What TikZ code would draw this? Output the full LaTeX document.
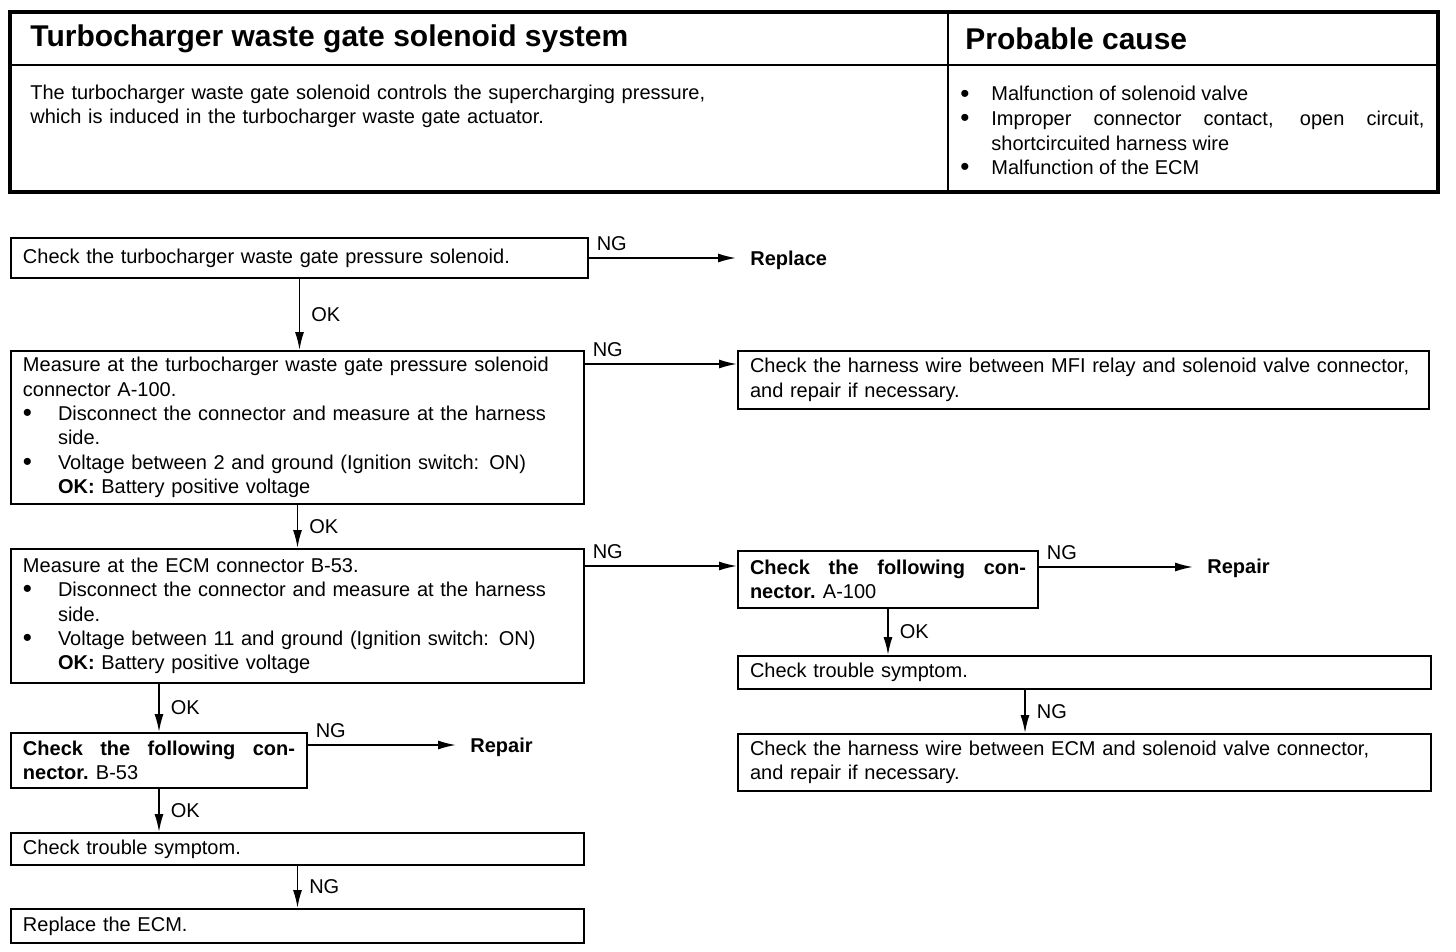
\documentclass[tikz,border=0pt]{standalone}
\usepackage{fontspec}
\usepackage{graphicx}
\setmainfont{Liberation Sans}
\usetikzlibrary{positioning,arrows.meta,calc}
\newcommand{\dotmark}{\raisebox{-0.06em}{\scalebox{1.3}{\textbullet}}}
\newcommand{\itm}[2][17.5pt]{\par\noindent\hangindent=#1\hangafter=1\hbox to #1{\dotmark\hfil}#2\par}
\tikzset{
  box/.style={draw,line width=1pt,anchor=north west,align=left,inner xsep=6pt,inner ysep=3pt,font=\fontsize{10}{12.2}\selectfont},
  jbox/.style={box,align=justify,font=\fontsize{10}{12.2}\selectfont\bfseries},
  arr/.style={-{Latex[length=9pt,width=4.5pt]},line width=0.8pt},
  lbl/.style={inner sep=3.5pt,font=\fontsize{10}{12}\selectfont},
  term/.style={anchor=west,inner xsep=7pt,inner ysep=0pt,font=\fontsize{10}{12}\selectfont\bfseries},
  head/.style={anchor=west,inner sep=0pt,font=\fontsize{15}{17}\selectfont\bfseries},
  grid/.style={line width=1.2pt}
}

\begin{document}
\begin{tikzpicture}[x=0.5pt,y=-0.5pt]
\useasboundingbox (0,0) rectangle (1456,952);
\draw[line width=1.8pt] (10,12) rectangle (1438,192);
\draw[grid] (10,65) -- (1438,65);
\draw[grid] (948,12) -- (948,192);
\node[head] (title) at (30,39) {Turbocharger waste gate solenoid system};
\node[head] (cause) at (965,39) {Probable cause};
\node[anchor=north west,inner sep=0pt,text width=370pt,align=left,font=\fontsize{10}{12}\selectfont] (desc) at (30,85)
  {The turbocharger waste gate solenoid controls the supercharging pressure,\\which is induced in the turbocharger waste gate actuator.};
\node[anchor=north west,inner sep=0pt,text width=232pt,align=justify,font=\fontsize{10}{12.3}\selectfont] (causes) at (960,76)
  {\itm[15.5pt]{Malfunction of solenoid valve}\itm[15.5pt]{Improper connector contact, open circuit,\linebreak shortcircuited harness wire}\itm[15.5pt]{Malfunction of the ECM}};

\node[box,text width=276.5pt,minimum height=20pt] (b1) at (10,237) {Check the turbocharger waste gate pressure solenoid.};
\node[box,text width=274.5pt,minimum height=76.5pt] (b2) at (10,350)
  {Measure at the turbocharger waste gate pressure solenoid\\connector A-100.\itm{Disconnect the connector and measure at the harness\newline side.}\itm{Voltage between 2 and ground (Ignition switch: ON)\newline\textbf{OK:} Battery positive voltage}};
\node[box,text width=274.5pt,minimum height=67pt] (b3) at (10,548)
  {Measure at the ECM connector B-53.\itm{Disconnect the connector and measure at the harness\newline side.}\itm{Voltage between 11 and ground (Ignition switch: ON)\newline\textbf{OK:} Battery positive voltage}};
\node[jbox,text width=136pt,minimum height=27.5pt] (b4) at (10,732) {Check the following con-\linebreak nector. \mdseries B-53};
\node[box,text width=274.5pt,minimum height=16pt] (b5) at (10,832) {Check trouble symptom.};
\node[box,text width=274.5pt,minimum height=17pt] (b6) at (10,908) {Replace the ECM.};

\node[box,text width=333.5pt,minimum height=29pt] (r1) at (737,350) {Check the harness wire between MFI relay and solenoid valve connector,\\and repair if necessary.};
\node[jbox,text width=138pt,minimum height=28.5pt] (r2) at (737,550) {Check the following con-\linebreak nector. \mdseries A-100};
\node[box,text width=334.5pt,minimum height=16.5pt] (r3) at (737,655) {Check trouble symptom.};
\node[box,text width=334.5pt,minimum height=28.5pt] (r4) at (737,733) {Check the harness wire between ECM and solenoid valve connector,\\and repair if necessary.};

\node[term] (rep1) at (736,260) {Replace};
\node[term] (rep2) at (1193,568) {Repair};
\node[term] (rep3) at (456,747) {Repair};

\draw[arr] (b1.east) -- node[lbl,above right,pos=0] {NG} (b1.east -| rep1.west);
\draw[arr] (b1.south) -- node[lbl,right=2pt] {OK} (b1.south |- b2.north);
\draw[arr] ([yshift=-7pt]b2.north east) -- node[lbl,above right,pos=0] {NG} ([yshift=-7pt]b2.north east -| r1.west);
\draw[arr] (b2.south) -- node[lbl,right=2pt] {OK} (b2.south |- b3.north);
\draw[arr] ([yshift=-9pt]b3.north east) -- node[lbl,above right,pos=0] {NG} ([yshift=-9pt]b3.north east -| r2.west);
\draw[arr] ([yshift=-8.5pt]r2.north east) -- node[lbl,above right,pos=0] {NG} ([yshift=-8.5pt]r2.north east -| rep2.west);
\draw[arr] (r2.south) -- node[lbl,right=2pt] {OK} (r2.south |- r3.north);
\draw[arr] ([xshift=144pt]r3.south west) -- node[lbl,right=2pt] {NG} ([xshift=144pt]r3.south west |- r4.north);
\draw[arr] (b4.north |- b3.south) -- node[lbl,right=2pt] {OK} (b4.north);
\draw[arr] ([yshift=-6.5pt]b4.north east) -- node[lbl,above right,pos=0] {NG} ([yshift=-6.5pt]b4.north east -| rep3.west);
\draw[arr] (b4.south) -- node[lbl,right=2pt] {OK} (b4.south |- b5.north);
\draw[arr] (b5.south) -- node[lbl,right=2pt] {NG} (b5.south |- b6.north);
\end{tikzpicture}
\end{document}
